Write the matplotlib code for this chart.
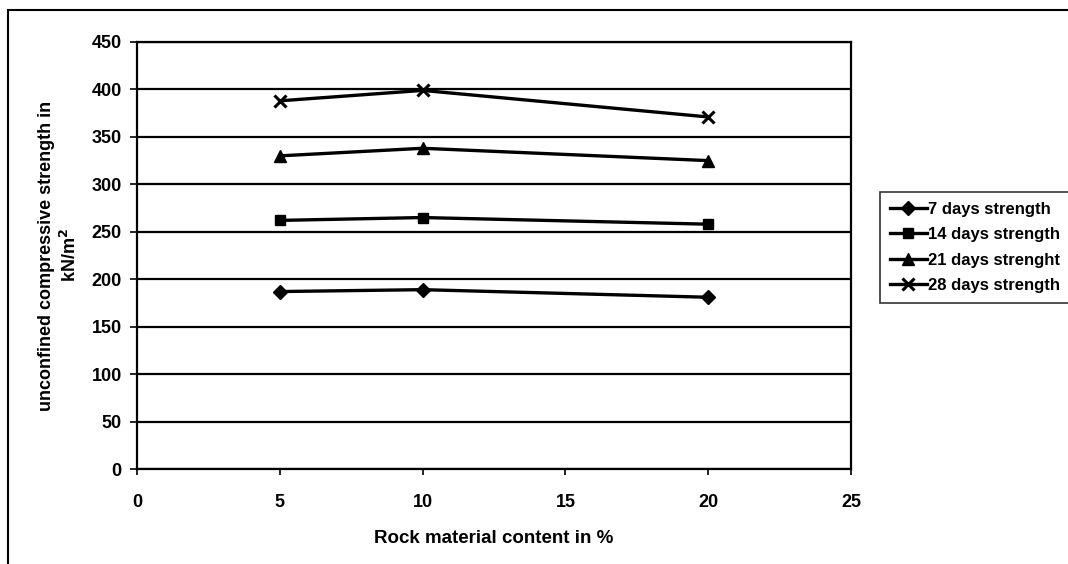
import matplotlib
matplotlib.use("Agg")
import matplotlib.pyplot as plt
from matplotlib.patches import Rectangle

# Data
rock_content = [5, 10, 20]
s7 = [187, 189, 181]
s14 = [262, 265, 258]
s21 = [330, 338, 325]
s28 = [388, 399, 371]
labels = ["7 days strength", "14 days strength", "21 days strenght", "28 days strength"]
y_ticks = [0, 50, 100, 150, 200, 250, 300, 350, 400, 450]
x_ticks = [0, 5, 10, 15, 20, 25]

plt.rcParams['font.family'] = ['Liberation Sans', 'DejaVu Sans']
plt.rcParams['font.weight'] = 'bold'

W, H = 1068, 564
fig = plt.figure(figsize=(W / 100, H / 100), dpi=100)
ax = fig.add_axes([137 / W, 1 - 469 / H, (851 - 137) / W, (469 - 42) / H])

# outer chart border
fig.patches.append(Rectangle((8 / W, -0.02), 1.05, 1 - 10 / H + 0.02,
                             transform=fig.transFigure, fill=False,
                             edgecolor='black', linewidth=1.5, zorder=0))

series = [s7, s14, s21, s28]
markers = ['D', 's', '^', 'x']
msizes = [7, 7, 8, 8]
for vals, lab, m, ms in zip(series, labels, markers, msizes):
    ax.plot(rock_content, vals, color='black', linewidth=2.4, marker=m,
            markersize=ms, markeredgewidth=2.2 if m == 'x' else 1,
            label=lab, clip_on=False, zorder=3)

ax.set_xlim(0, 25)
ax.set_ylim(0, 450)
ax.set_xticks(x_ticks)
ax.set_yticks(y_ticks)
ax.yaxis.grid(True, color='black', linewidth=1.6)
ax.set_axisbelow(True)
for sp in ax.spines.values():
    sp.set_linewidth(1.6)
    sp.set_color('black')

ax.tick_params(axis='y', direction='out', length=5, width=1.2, pad=6, labelsize=13)
ax.tick_params(axis='x', direction='out', length=4, width=1.2, pad=14, labelsize=13)
for t in ax.get_xticklabels() + ax.get_yticklabels():
    t.set_fontweight('bold')

ax.set_xlabel("Rock material content in %", fontsize=13.5, fontweight='bold', labelpad=14)
ax.set_ylabel("unconfined compressive strength in\nkN/m$^\\mathbf{2}$", fontsize=13,
              fontweight='bold', labelpad=8, linespacing=1.35)

leg = fig.legend(loc='upper left', bbox_to_anchor=(880 / W, 1 - 192 / H),
                 frameon=True, fancybox=False, edgecolor='black',
                 prop={'weight': 'bold', 'size': 12}, handlelength=2.2,
                 handletextpad=0.1, labelspacing=0.62, borderpad=0.6,
                 borderaxespad=0)
leg.get_frame().set_linewidth(1.2)

fig.savefig("out.png", dpi=100, facecolor='white')
